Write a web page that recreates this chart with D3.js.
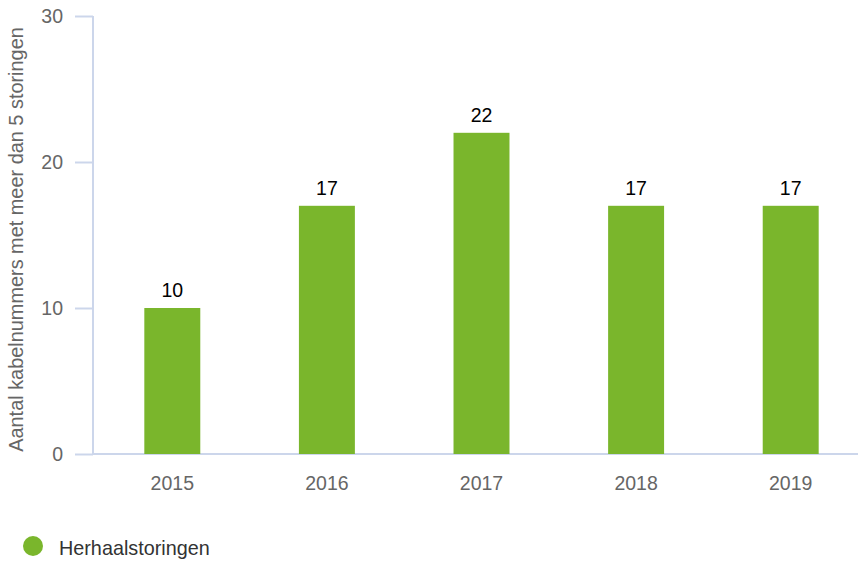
<!DOCTYPE html>
<html><head><meta charset="utf-8">
<script src="https://cdn.jsdelivr.net/npm/d3@7"></script>
<style>body{margin:0;background:#fff}svg{display:block;font-family:"Liberation Sans",Arial,sans-serif}</style>
</head><body>
<svg id="c" width="858" height="561"></svg>
<script>
const categories = ["2015","2016","2017","2018","2019"];
const values = [10,17,22,17,17];
const yTicks = [0,10,20,30];
const seriesName = "Herhaalstoringen";
const yTitle = "Aantal kabelnummers met meer dan 5 storingen";

const svg = d3.select("#c");
const x = d3.scaleBand().domain(categories).range([95,868]).paddingInner(0.638).paddingOuter(0.319);
const y = d3.scaleLinear().domain([0,30]).range([454,16]);
const axisColor = "#ccd6eb";
const fontFam = "Liberation Sans, Arial, sans-serif";

// y axis
const ya = svg.append("g").attr("transform","translate(93,0)")
  .call(d3.axisLeft(y).tickValues(yTicks).tickSize(18).tickPadding(12));
ya.select(".domain").attr("stroke",axisColor).attr("stroke-width",2).attr("d","M0,16V454");
ya.selectAll(".tick line").attr("stroke",axisColor).attr("stroke-width",2);
ya.selectAll(".tick text").attr("fill","#666").style("font-size","19.5px").attr("font-family",fontFam);

// x axis
const xa = svg.append("g").attr("transform","translate(0,454)")
  .call(d3.axisBottom(x).tickSize(0).tickPadding(22));
xa.select(".domain").attr("stroke",axisColor).attr("stroke-width",2).attr("d","M93,0H858");
xa.selectAll(".tick text").attr("fill","#666").style("font-size","19.5px").attr("font-family",fontFam);

// bars
svg.append("g").selectAll("rect").data(values).join("rect")
  .attr("x",(d,i)=>x(categories[i]))
  .attr("width",x.bandwidth())
  .attr("y",d=>y(d))
  .attr("height",d=>y(0)-y(d))
  .attr("fill","#7ab62c");

// value labels
svg.append("g").selectAll("text").data(values).join("text")
  .attr("x",(d,i)=>x(categories[i])+x.bandwidth()/2)
  .attr("y",d=>y(d)-11)
  .attr("text-anchor","middle")
  .attr("fill","#000")
  .style("font-size","19.5px")
  .text(d=>d);

// y title
svg.append("text")
  .attr("transform",`translate(23,239.5) rotate(-90)`)
  .attr("text-anchor","middle")
  .attr("fill","#666")
  .style("font-size","19.9px")
  .text(yTitle);

// legend
svg.append("circle").attr("cx",33).attr("cy",546).attr("r",10).attr("fill","#7ab62c");
svg.append("text").attr("x",59).attr("y",555).attr("fill","#333").style("font-size","19.8px").text(seriesName);
</script>
</body></html>
